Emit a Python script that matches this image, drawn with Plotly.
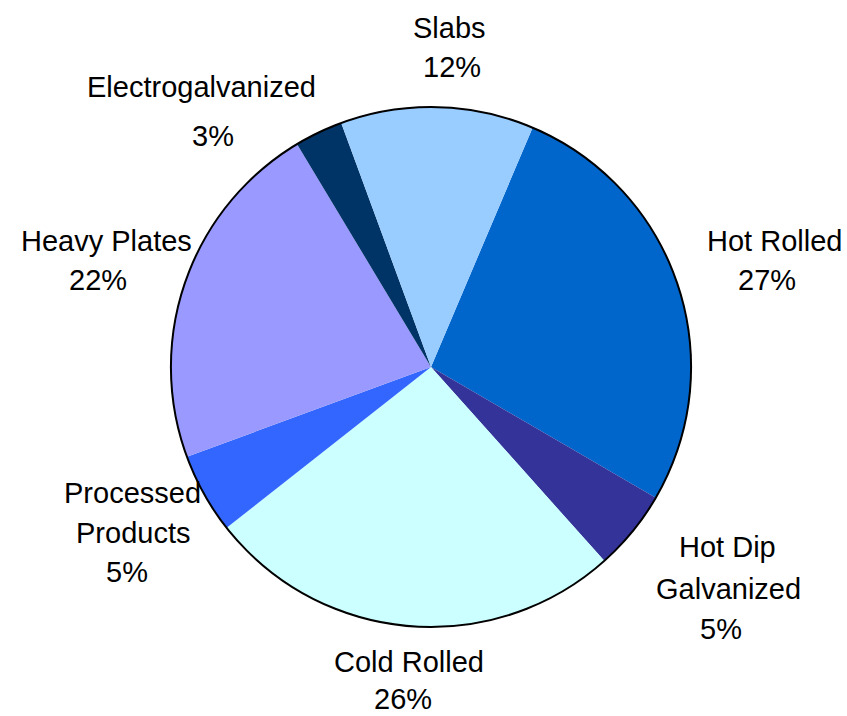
import plotly.graph_objects as go

# Product mix (percent of shipments), listed clockwise starting with Hot Rolled
categories = ["Hot Rolled", "Hot Dip Galvanized", "Cold Rolled", "Processed Products",
              "Heavy Plates", "Electrogalvanized", "Slabs"]
values = [27, 5, 26, 5, 22, 3, 12]
colors = ["#0066CC", "#333399", "#CCFFFF", "#3366FF", "#9999FF", "#003366", "#99CCFF"]

# How each category name is broken over lines in its label
name_lines = {
    "Hot Dip Galvanized": ["Hot Dip", "Galvanized"],
    "Processed Products": ["Processed", "Products"],
}

# Label placement in pixels: one (x centre, baseline y) per text line, name lines then percent
W, H = 847, 716
label_pos = {
    "Hot Rolled": [(774, 251), (767, 290)],
    "Hot Dip Galvanized": [(727, 557), (728, 599), (721, 639)],
    "Cold Rolled": [(409, 672), (403, 709)],
    "Processed Products": [(132, 503), (133, 543), (127, 582)],
    "Heavy Plates": [(106, 251), (98, 290)],
    "Electrogalvanized": [(201, 98), (213, 146)],
    "Slabs": [(449, 38), (452, 77)],
}

FONT = "Liberation Sans, Arial, sans-serif"
FS = 29

# Pie geometry
cx, cy, r = 431, 367, 260
domain = dict(x=[(cx - r) / W, (cx + r) / W], y=[1 - (cy + r) / H, 1 - (cy - r) / H])
start_angle = 23

fig = go.Figure()
fig.add_trace(go.Pie(
    labels=categories, values=values, sort=False, direction="clockwise",
    rotation=start_angle, domain=domain,
    marker=dict(colors=colors, line=dict(width=0)),
    textinfo="none", hoverinfo="label+percent", showlegend=False,
))
# Black rim around the whole pie
fig.add_trace(go.Pie(
    labels=["total"], values=[sum(values)], domain=domain,
    marker=dict(colors=["rgba(0,0,0,0)"], line=dict(color="black", width=2)),
    textinfo="none", hoverinfo="skip", showlegend=False,
))

total = sum(values)
annotations = []
for cat, v in zip(categories, values):
    lines = name_lines.get(cat, [cat]) + [f"{round(v / total * 100)}%"]
    for text, (x, base) in zip(lines, label_pos[cat]):
        annotations.append(dict(
            x=x / W, y=1 - (base - 10.5) / H, xref="paper", yref="paper",
            text=text, showarrow=False, xanchor="center", yanchor="middle",
            font=dict(family=FONT, size=FS, color="black"),
        ))

fig.update_layout(
    width=W, height=H, margin=dict(l=0, r=0, t=0, b=0),
    paper_bgcolor="white", plot_bgcolor="white",
    annotations=annotations,
)

fig.write_html("out.html")
